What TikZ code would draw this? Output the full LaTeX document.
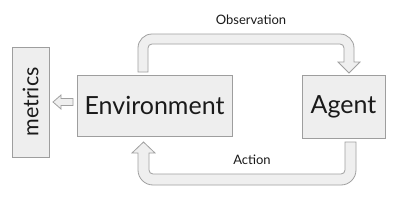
\documentclass[tikz,border=0pt]{standalone}
\usepackage{fontspec}
\setmainfont{Lato}
\definecolor{boxfill}{HTML}{EEEEEE}
\definecolor{boxline}{HTML}{9E9E9E}
\definecolor{pipefill}{HTML}{EFEFEF}
\definecolor{pipeline}{HTML}{A0A0A0}
\definecolor{txt}{HTML}{1A1A1A}
\begin{document}
\begin{tikzpicture}[x=1pt,y=-1pt,
  box/.style={draw=boxline, fill=boxfill, line width=0.8pt, inner sep=0pt, text=txt},
  pipe/.style={draw=pipeline, fill=pipefill, line width=0.8pt, line join=miter},
  lbl/.style={text=txt, inner sep=0pt, font=\fontsize{13}{15}\selectfont}]
\useasboundingbox (0,0) rectangle (400,201);
\fill[white] (0,0) rectangle (400,201);
% boxes
\node[box, minimum width=155pt, minimum height=61pt, font=\fontsize{25}{28}\selectfont] (env) at (154.5,105.5) {Environment};
\node[box, minimum width=83pt, minimum height=63pt, font=\fontsize{25}{28}\selectfont] (agent) at (343.5,106.5) {Agent};
\node[box, minimum width=37pt, minimum height=110pt] (metrics) at (30.5,102) {};
\node[text=txt, inner sep=0pt, rotate=90, font=\fontsize{21.5}{24}\selectfont] (mtext) at (metrics.center) {metrics};
% env -> metrics hollow arrow
\draw[pipe] (53,102) -- (61,95) -- (61,98.5) -- (73,98.5) -- (73,105.5) -- (61,105.5) -- (61,109) -- cycle;
% observation pipe
\draw[pipe] (138,72) -- (138,48) .. controls (138,40.27) and (144.27,34) .. (152,34)
  -- (340,34) .. controls (347.73,34) and (354,40.27) .. (354,48)
  -- (354,62) -- (360,62) -- (349,73) -- (338,62) -- (344,62)
  -- (344,48) .. controls (344,45.79) and (342.21,44) .. (340,44)
  -- (152,44) .. controls (149.79,44) and (148,45.79) .. (148,48)
  -- (148,72) -- cycle;
% action pipe
\draw[pipe] (345,142) -- (356,142) -- (356,170) .. controls (356,178.28) and (349.28,185) .. (341,185)
  -- (153,185) .. controls (144.72,185) and (138,178.28) .. (138,170)
  -- (138,153) -- (132,153) -- (143.5,142) -- (155,153) -- (149,153)
  -- (149,170) .. controls (149,172.21) and (150.79,174) .. (153,174)
  -- (341,174) .. controls (343.21,174) and (345,172.21) .. (345,170)
  -- cycle;
% labels
\node[lbl] (obs) at (251,19.5) {Observation};
\node[lbl] (act) at (252,160) {Action};
\end{tikzpicture}
\end{document}
